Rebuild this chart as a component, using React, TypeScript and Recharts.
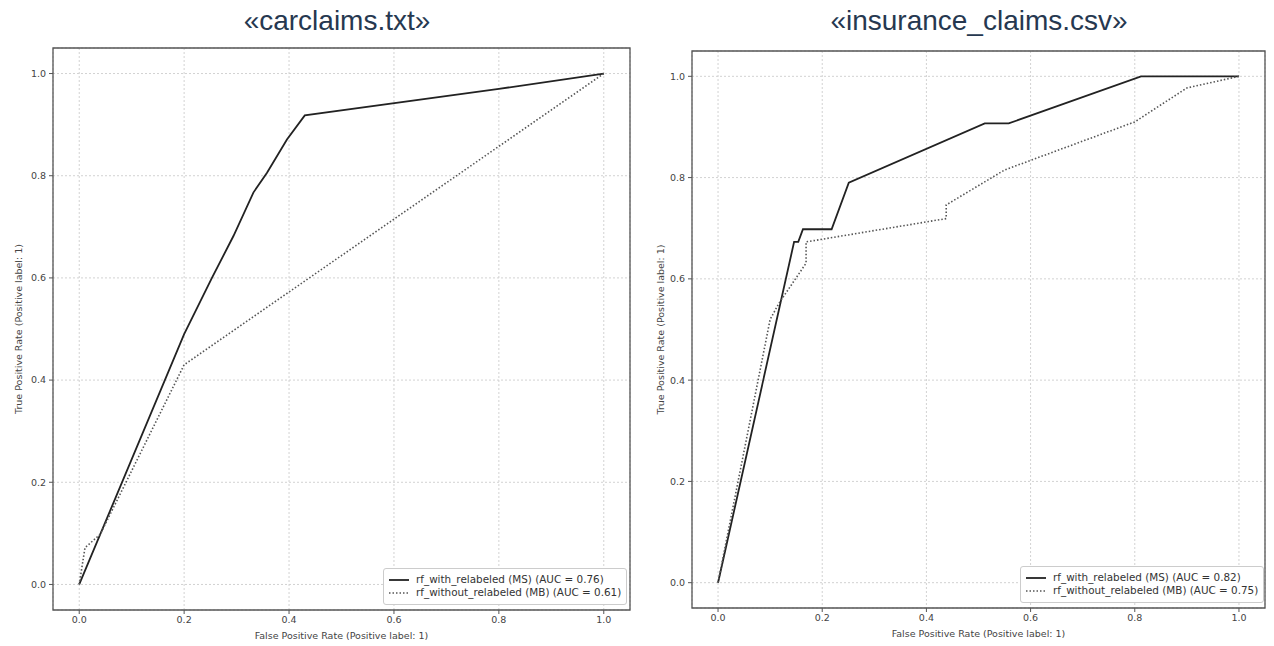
import React from 'react';
import { LineChart, Line, XAxis, YAxis, CartesianGrid, ReferenceArea, Legend } from 'recharts';

// ROC curves
const carMsFpr = [0, 0.2, 0.253, 0.294, 0.332, 0.358, 0.396, 0.43, 0.8, 1];
const carMsTpr = [0, 0.49, 0.6, 0.682, 0.767, 0.806, 0.871, 0.918, 0.97, 1];
const carMbFpr = [0, 0.011, 0.04, 0.2, 1];
const carMbTpr = [0, 0.072, 0.098, 0.43, 1];

const insMsFpr = [0, 0.146, 0.154, 0.163, 0.218, 0.251, 0.512, 0.558, 0.812, 1];
const insMsTpr = [0, 0.673, 0.673, 0.698, 0.698, 0.79, 0.907, 0.907, 1, 1];
const insMbFpr = [0, 0.1, 0.117, 0.169, 0.169, 0.438, 0.438, 0.55, 0.8, 0.9, 1];
const insMbTpr = [0, 0.52, 0.552, 0.631, 0.673, 0.719, 0.746, 0.815, 0.91, 0.977, 1];

const ticks = [0, 0.2, 0.4, 0.6, 0.8, 1.0];
const titles = ['«carclaims.txt»', '«insurance_claims.csv»'];
const msNames = ['rf_with_relabeled (MS) (AUC = 0.76)', 'rf_with_relabeled (MS) (AUC = 0.82)'];
const mbNames = ['rf_without_relabeled (MB) (AUC = 0.61)', 'rf_without_relabeled (MB) (AUC = 0.75)'];
const xLabel = 'False Positive Rate (Positive label: 1)';
const yLabel = 'True Positive Rate (Positive label: 1)';

const zip = (xs: number[], ys: number[]) => xs.map((x, i) => ({ x, y: ys[i] }));

const TICK_FONT = { fontFamily: 'DejaVu Sans', fontSize: 9.5, fill: '#444' };

const RocLegend = (props: any) => {
  const items = props.payload || [];
  return (
    <div
      style={{
        background: '#fff',
        border: '1px solid #ccc',
        borderRadius: 3,
        padding: '4px 5px 5px 4px',
        fontFamily: 'DejaVu Sans',
        fontSize: 10.4,
        color: '#333',
        lineHeight: '13px',
        whiteSpace: 'nowrap',
      }}
    >
      {items.map((it: any, i: number) => (
        <div key={i} style={{ display: 'flex', alignItems: 'center' }}>
          <svg width={22} height={10} style={{ marginRight: 6 }}>
            <line
              x1={1}
              x2={21}
              y1={5}
              y2={5}
              stroke={i === 0 ? '#222' : '#555'}
              strokeWidth={i === 0 ? 1.8 : 1.5}
              strokeDasharray={i === 0 ? undefined : '1.5 2'}
            />
          </svg>
          <span>{it.value}</span>
        </div>
      ))}
    </div>
  );
};

interface PanelProps {
  idx: number;
  ms: { x: number; y: number }[];
  mb: { x: number; y: number }[];
  left: number;
  width: number;
  margin: { top: number; right: number; bottom: number; left: number };
  legendPos: { left: number; top: number };
  yLabelDx: number;
}

const Panel: React.FC<PanelProps> = ({ idx, ms, mb, left, width, margin, legendPos, yLabelDx }) => (
  <div style={{ position: 'absolute', left, top: 0 }}>
    <LineChart width={width} height={646} margin={margin}>
      <CartesianGrid stroke="#d2d2d2" strokeDasharray="2 2" />
      <XAxis
        type="number"
        dataKey="x"
        domain={[-0.05, 1.05]}
        ticks={ticks}
        allowDataOverflow
        tickFormatter={(v: number) => v.toFixed(1)}
        tick={TICK_FONT}
        tickSize={4}
        tickMargin={2}
        tickLine={{ stroke: '#555' }}
        axisLine={false}
        height={30}
        label={{
          content: (p: any) => {
            const vb = p.viewBox;
            return (
              <text
                x={vb.x + vb.width / 2}
                y={vb.y + 29}
                textAnchor="middle"
                fontFamily="DejaVu Sans"
                fontSize={9.5}
                fill="#444"
              >
                {xLabel}
              </text>
            );
          },
        }}
      />
      <YAxis
        type="number"
        dataKey="y"
        domain={[-0.05, 1.05]}
        ticks={ticks}
        allowDataOverflow
        tickFormatter={(v: number) => v.toFixed(1)}
        tick={TICK_FONT}
        tickSize={4}
        tickMargin={3}
        tickLine={{ stroke: '#555' }}
        axisLine={false}
        width={40}
        label={{
          content: (p: any) => {
            const vb = p.viewBox;
            const cx = vb.x + yLabelDx;
            const cy = vb.y + vb.height / 2;
            return (
              <text
                x={cx}
                y={cy}
                transform={`rotate(-90 ${cx} ${cy})`}
                textAnchor="middle"
                dominantBaseline="central"
                fontFamily="DejaVu Sans"
                fontSize={9.5}
                fill="#444"
              >
                {yLabel}
              </text>
            );
          },
        }}
      />
      <ReferenceArea x1={-0.05} x2={1.05} y1={-0.05} y2={1.05} fill="none" stroke="#555" strokeWidth={1.3} ifOverflow="visible" />
      <Line
        data={ms}
        dataKey="y"
        name={msNames[idx]}
        type="linear"
        stroke="#222"
        strokeWidth={1.8}
        dot={false}
        isAnimationActive={false}
      />
      <Line
        data={mb}
        dataKey="y"
        name={mbNames[idx]}
        type="linear"
        stroke="#555"
        strokeWidth={1.6}
        strokeDasharray="1.5 2"
        dot={false}
        isAnimationActive={false}
      />
      <Legend
        layout="horizontal"
        verticalAlign="middle"
        align="center"
        content={<RocLegend />}
        wrapperStyle={{ left: legendPos.left, top: legendPos.top, width: 'auto', height: 'auto' }}
      />
    </LineChart>
  </div>
);

const App: React.FC = () => {
  const titleStyle: React.CSSProperties = {
    position: 'absolute',
    top: 5,
    width: 600,
    textAlign: 'center',
    fontFamily: 'Liberation Sans, Arial, sans-serif',
    fontSize: 28,
    color: '#263850',
    whiteSpace: 'nowrap',
  };
  return (
    <div style={{ position: 'absolute', left: 0, top: 0, width: 1274, height: 646, background: '#fff', overflow: 'hidden' }}>
      <div style={{ ...titleStyle, left: 37 }}>{titles[0]}</div>
      <div style={{ ...titleStyle, left: 679 }}>{titles[1]}</div>
      <Panel
        idx={0}
        ms={zip(carMsFpr, carMsTpr)}
        mb={zip(carMbFpr, carMbTpr)}
        left={0}
        width={640}
        margin={{ top: 48, right: 10, bottom: 6, left: 13 }}
        legendPos={{ left: 383, top: 568 }}
        yLabelDx={5}
      />
      <Panel
        idx={1}
        ms={zip(insMsFpr, insMsTpr)}
        mb={zip(insMbFpr, insMbTpr)}
        left={640}
        width={634}
        margin={{ top: 51, right: 9, bottom: 8, left: 12 }}
        legendPos={{ left: 380, top: 566 }}
        yLabelDx={8}
      />
    </div>
  );
};

export default App;
